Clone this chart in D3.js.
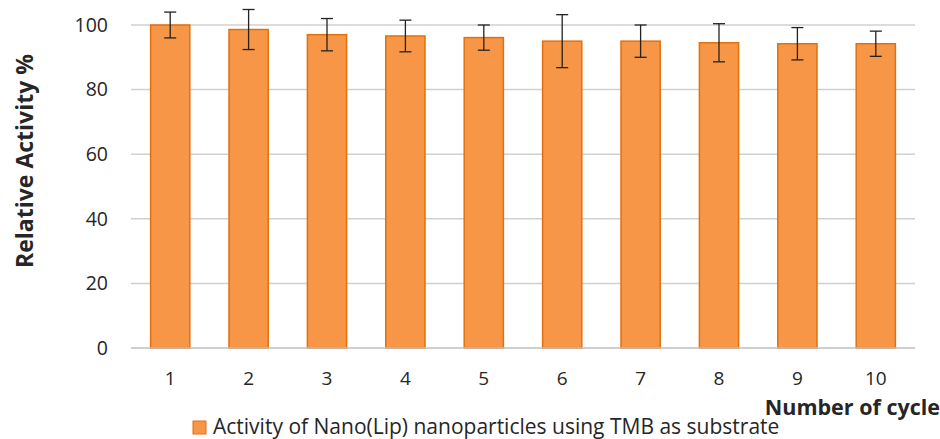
<!DOCTYPE html>
<html>
<head>
<meta charset="utf-8">
<script src="https://cdn.jsdelivr.net/npm/d3@7"></script>
<style>
  body { margin: 0; background: #fff; }
  svg text { font-family: "Open Sans", "Noto Sans", sans-serif; fill: #262626; }
</style>
</head>
<body>
<svg id="chart" width="940" height="439"></svg>
<script>
const cycles = ["1", "2", "3", "4", "5", "6", "7", "8", "9", "10"];
const activity = [100, 98.6, 97.0, 96.6, 96.1, 95.0, 95.0, 94.5, 94.2, 94.2];
const errors = [4.0, 6.2, 5.0, 4.9, 3.9, 8.2, 5.0, 5.9, 5.0, 3.9];
const yTicks = [0, 20, 40, 60, 80, 100];

const svg = d3.select("#chart");
const margin = { left: 131, right: 25, top: 25, bottom: 91 };
const width = 940 - margin.left - margin.right;
const height = 439 - margin.top - margin.bottom;

const g = svg.append("g").attr("transform", `translate(${margin.left},${margin.top})`);

const x = d3.scaleBand().domain(cycles).range([0, width]).paddingInner(0.5).paddingOuter(0.25);
const y = d3.scaleLinear().domain([0, 100]).range([height, 0]);

// gridlines
g.selectAll(".grid").data(yTicks.filter(d => d > 0)).enter().append("line")
  .attr("x1", 0).attr("x2", width)
  .attr("y1", d => y(d)).attr("y2", d => y(d))
  .attr("stroke", "#d0d0d0").attr("stroke-width", 1.5);

// y tick labels
const yAxis = g.append("g").call(d3.axisLeft(y).tickValues(yTicks).tickSize(0).tickPadding(23));
yAxis.select(".domain").remove();
yAxis.selectAll("text").attr("font-size", 19.5).attr("font-family", "Open Sans").attr("fill", "#262626");

// bars
g.selectAll(".bar").data(activity).enter().append("rect")
  .attr("x", (d, i) => x(cycles[i]))
  .attr("y", d => y(d))
  .attr("width", x.bandwidth())
  .attr("height", d => height - y(d))
  .attr("fill", "#f79646")
  .attr("stroke", "#e2700f")
  .attr("stroke-width", 1.5);

// baseline
g.append("line").attr("x1", 0).attr("x2", width).attr("y1", height).attr("y2", height)
  .attr("stroke", "#bfbfbf").attr("stroke-width", 1.5);

// error bars
const eb = g.selectAll(".err").data(activity).enter().append("g");
eb.append("line")
  .attr("x1", (d, i) => x(cycles[i]) + x.bandwidth() / 2)
  .attr("x2", (d, i) => x(cycles[i]) + x.bandwidth() / 2)
  .attr("y1", (d, i) => y(d + errors[i]))
  .attr("y2", (d, i) => y(d - errors[i]))
  .attr("stroke", "#222").attr("stroke-width", 1.3);
[1, -1].forEach(s => {
  eb.append("line")
    .attr("x1", (d, i) => x(cycles[i]) + x.bandwidth() / 2 - 6)
    .attr("x2", (d, i) => x(cycles[i]) + x.bandwidth() / 2 + 6)
    .attr("y1", (d, i) => y(d + s * errors[i]))
    .attr("y2", (d, i) => y(d + s * errors[i]))
    .attr("stroke", "#222").attr("stroke-width", 1.3);
});

// x tick labels
const xAxis = g.append("g").attr("transform", `translate(0,${height})`)
  .call(d3.axisBottom(x).tickSize(0).tickPadding(0));
xAxis.select(".domain").remove();
xAxis.selectAll("text").attr("dy", null).attr("y", 37)
  .attr("font-size", 19).attr("font-family", "Open Sans").attr("fill", "#262626");

// axis titles
svg.append("text")
  .attr("transform", "translate(33,161) rotate(-90)")
  .attr("text-anchor", "middle")
  .attr("font-family", "Liberation Sans")
  .attr("font-size", 23).attr("font-weight", "bold")
  .attr("fill", "#000")
  .text("Relative Activity %");

svg.append("text")
  .attr("x", 940).attr("y", 415)
  .attr("text-anchor", "end")
  .attr("font-size", 21.5).attr("font-weight", "bold")
  .attr("fill", "#000")
  .text("Number of cycle");

// legend
const leg = svg.append("g").attr("transform", "translate(193,421)");
leg.append("rect").attr("x", 0).attr("y", 0).attr("width", 13).attr("height", 13)
  .attr("fill", "#f79646").attr("stroke", "#e2700f");
leg.append("text").attr("x", 20).attr("y", 13)
  .attr("font-size", 21).attr("fill", "#262626")
  .text("Activity of Nano(Lip) nanoparticles using TMB as substrate");
</script>
</body>
</html>
